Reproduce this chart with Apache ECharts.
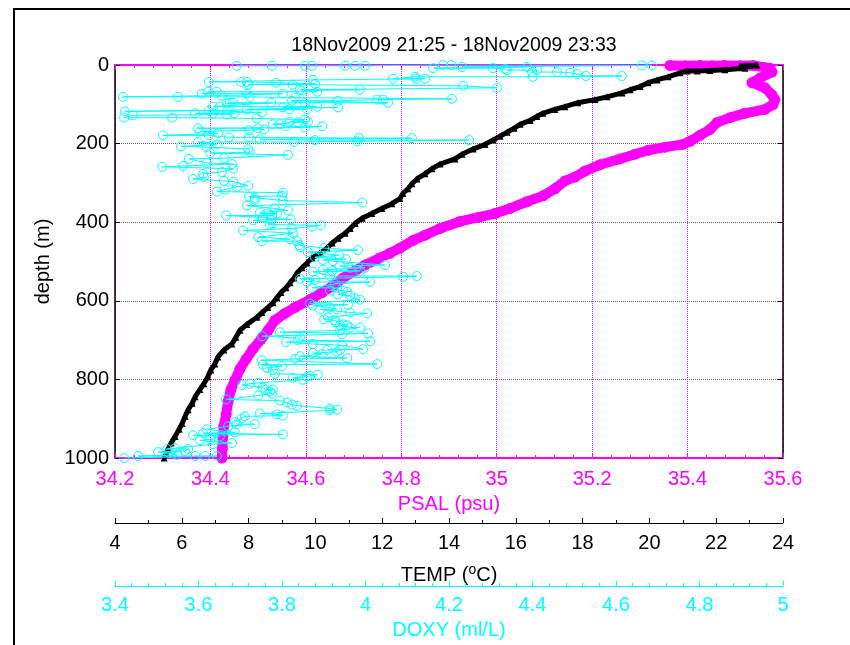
<!DOCTYPE html>
<html>
<head>
<meta charset="utf-8">
<script src="https://cdn.jsdelivr.net/npm/echarts@6/dist/echarts.min.js"></script>
<style>html,body{margin:0;padding:0;background:#fff;overflow:hidden}#c{width:850px;height:645px}</style>
</head>
<body>
<div id="c"></div>
<script>
// ---------------- DATA ----------------
var titleText = '18Nov2009 21:25 - 18Nov2009 23:33';

// PSAL (psu) vs depth (m)
var psalValues = [35.363,35.395,35.426,35.451,35.478,35.510,35.537,35.573,35.577,35.552,35.535,35.562,35.577,35.583,35.579,35.562,35.520,35.489,35.462,35.447,35.426,35.405,35.390,35.353,35.317,35.290,35.258,35.216,35.185,35.164,35.143,35.122,35.097,35.063,35.028,34.996,34.961,34.923,34.881,34.850,34.825,34.797,34.776,34.755,34.724,34.703,34.678,34.657,34.634,34.609,34.577,34.556,34.535,34.521,34.506,34.489,34.475,34.462,34.452,34.443,34.437,34.433,34.428,34.426,34.425,34.424];
var psalDepth  = [1,2,1,2,1,2,1,8,18,33,45,58,76,88,101,113,123,134,146,164,179,194,202,209,217,227,239,254,270,285,295,315,333,348,365,378,388,398,416,433,446,466,479,491,509,524,542,562,579,597,617,632,650,675,698,723,748,773,801,826,856,889,919,945,975,1000];

// TEMP (degC) vs depth (m)
var tempValues = [23.22,23.01,22.71,22.86,22.26,21.81,21.43,21.13,20.92,20.56,20.23,19.96,19.72,19.42,19.18,18.73,18.37,17.86,17.47,17.17,16.81,16.63,16.43,16.13,15.95,15.74,15.53,15.32,15.08,14.72,14.39,14.18,13.73,13.49,13.28,13.04,12.89,12.77,12.62,12.53,12.29,11.99,11.69,11.40,11.19,11.04,10.89,10.68,10.50,10.35,10.14,9.90,9.75,9.60,9.45,9.36,9.24,9.12,8.97,8.85,8.73,8.58,8.40,8.25,7.95,7.74,7.62,7.50,7.26,7.08,6.99,6.87,6.78,6.66,6.54,6.40,6.31,6.19,6.10,6.01,5.92,5.80,5.68,5.59,5.53,5.47];
var tempDepth  = [0,1,3,8,12,14,15,15,20,30,38,45,55,63,71,81,88,96,106,113,123,131,141,151,161,171,181,191,202,214,227,239,252,264,277,290,302,315,327,340,353,365,378,390,403,416,428,441,453,466,479,491,504,516,529,542,554,567,579,592,605,617,630,642,660,675,693,710,725,743,761,776,793,811,826,844,861,877,894,912,927,945,962,977,990,1000];

// DOXY (ml/L) vs depth (m)
var doxyValues = [3.692,3.776,3.855,3.872,3.951,3.975,3.999,4.186,4.205,4.662,4.686,4.231,4.387,4.162,4.305,4.334,4.339,4.411,4.399,4.459,4.490,4.507,4.528,4.614,4.401,4.119,4.066,4.121,4.143,3.874,3.625,3.702,3.716,3.786,3.879,3.719,3.826,4.234,4.315,3.843,3.987,3.848,3.884,3.623,3.644,3.608,3.716,3.802,3.656,3.419,3.551,3.723,3.831,4.207,4.028,4.042,3.934,3.824,4.054,3.855,3.668,3.675,3.683,3.774,3.635,3.651,3.884,3.802,3.934,3.716,3.817,3.860,3.424,3.625,3.752,3.592,3.635,3.685,3.668,3.443,3.422,3.537,3.740,3.855,3.819,3.862,3.838,3.778,3.795,3.810,3.896,3.855,3.599,3.743,3.757,3.721,3.604,3.647,3.515,3.625,3.673,3.721,3.984,4.111,3.747,3.879,4.248,3.980,3.829,3.599,3.644,3.558,3.620,3.719,3.723,3.628,3.814,3.661,3.577,3.620,3.680,3.563,3.513,3.683,3.656,3.611,3.613,3.587,3.661,3.683,3.719,3.692,3.663,3.644,3.802,3.800,3.721,3.735,3.735,3.802,3.992,3.716,3.783,3.814,3.747,3.764,3.788,3.776,3.666,3.754,3.821,3.774,3.731,3.778,3.771,3.893,3.872,3.824,3.707,3.826,3.743,3.819,3.752,3.836,3.841,3.843,3.901,3.982,3.862,3.937,3.879,3.953,3.898,3.922,4.047,3.939,3.963,3.999,3.898,3.920,3.987,3.874,3.915,4.123,4.090,3.843,3.879,3.860,4.011,3.927,3.872,3.932,3.915,3.946,3.956,3.934,3.963,3.975,3.987,3.867,3.958,3.874,3.915,3.932,3.891,3.963,4.004,3.910,3.901,3.927,3.929,3.946,3.956,3.939,3.963,3.987,3.939,3.795,4.006,3.944,3.752,3.843,3.838,4.011,3.810,3.874,3.944,3.994,3.908,3.939,3.932,3.874,3.896,3.843,3.956,3.831,3.752,4.028,3.754,3.800,3.764,3.778,3.783,3.886,3.867,3.860,3.826,3.850,3.743,3.723,3.704,3.754,3.762,3.778,3.771,3.776,3.743,3.666,3.795,3.812,3.824,3.836,3.915,3.932,3.915,3.747,3.788,3.802,3.711,3.704,3.687,3.692,3.735,3.671,3.620,3.687,3.611,3.802,3.587,3.651,3.628,3.604,3.680,3.635,3.544,3.525,3.575,3.568,3.503,3.529,3.549,3.455,3.592,3.616,3.644,3.422];
var doxyDepth  = [2,2,2,2,2,2,2,0,0,1,1,5,5,8,8,10,13,13,18,18,20,23,28,28,30,30,35,35,35,38,43,43,43,45,48,50,50,53,58,63,63,65,68,68,68,73,73,73,78,81,81,81,83,86,88,88,91,91,96,96,98,96,96,96,106,106,106,108,108,113,113,113,118,116,121,123,123,123,126,128,134,134,136,139,144,144,146,151,151,156,156,159,161,161,164,166,169,174,179,179,184,184,186,186,189,191,191,194,196,196,202,207,209,214,222,224,229,237,239,249,252,257,259,264,272,277,285,290,295,297,307,310,317,322,325,333,335,338,343,345,350,358,365,370,375,378,378,383,383,388,393,393,395,403,406,408,411,416,421,428,438,443,448,448,458,463,466,471,476,484,489,494,496,499,509,511,516,516,521,524,524,526,537,537,539,544,547,552,552,557,567,567,574,574,577,584,587,594,597,607,610,612,617,622,622,630,632,642,647,650,655,660,662,662,668,668,675,680,683,685,690,695,700,703,705,710,713,723,725,725,730,733,736,741,746,748,751,761,763,766,771,776,786,788,791,793,796,801,809,811,814,821,826,826,831,836,841,851,854,859,864,867,874,877,879,887,889,892,894,899,909,914,914,919,927,935,937,940,942,945,952,955,962,965,975,977,977,982,985,987,992,995,995,995,995,1000];

// axis ranges / labels
var psalAxis = {min: 34.2, max: 35.6, step: 0.2, name: 'PSAL (psu)'};
var tempAxis = {min: 4, max: 24, step: 2, name: 'TEMP ({sup|o}C)'};
var doxyAxis = {min: 3.4, max: 5, step: 0.2, name: 'DOXY (ml/L)'};
var depthAxis = {min: 0, max: 1000, step: 200, name: 'depth (m)'};

// ---------------- CHART ----------------
function pairs(xs, ys) { return xs.map(function (v, i) { return [v, ys[i]]; }); }
function plain(v) { return String(Math.round(v * 1000) / 1000); }
var MAG = '#ff00ff', CYA = '#00ffff', BLK = '#000000';
var FONT = '"Liberation Sans", Arial, sans-serif';
var FS = 20;

var chart = echarts.init(document.getElementById('c'), null, {renderer: 'canvas', width: 850, height: 645});
var option = {
  animation: false,
  backgroundColor: '#ffffff',
  textStyle: {fontFamily: FONT},
  title: {
    text: titleText, left: 449, top: 31, textAlign: 'center',
    textStyle: {fontFamily: FONT, fontSize: 19.5, fontWeight: 'normal', color: BLK}
  },
  graphic: [{
    type: 'rect', silent: true, z: -1,
    shape: {x: 14, y: 9, width: 1000, height: 1000},
    style: {fill: 'none', stroke: BLK, lineWidth: 2}
  }],
  grid: {left: 115, right: 67, top: 65, bottom: 183, containLabel: false},
  xAxis: [
    { // PSAL bottom
      type: 'value', position: 'bottom', min: psalAxis.min, max: psalAxis.max, interval: psalAxis.step,
      axisLine: {show: true, onZero: false, lineStyle: {color: MAG, width: 2}},
      axisTick: {show: true, inside: true, length: 5, lineStyle: {color: MAG}},
      minorTick: {show: true, splitNumber: 5, length: 3, lineStyle: {color: MAG}},
      axisLabel: {color: MAG, fontSize: FS, margin: 11, fontFamily: FONT, formatter: plain},
      splitLine: {show: true, lineStyle: {color: MAG, type: 'dotted', width: 1}},
      name: psalAxis.name, nameLocation: 'middle', nameGap: 36,
      nameTextStyle: {color: MAG, fontSize: FS, fontFamily: FONT}
    },
    { // TEMP
      type: 'value', position: 'bottom', offset: 65, min: tempAxis.min, max: tempAxis.max, interval: tempAxis.step,
      axisLine: {show: true, onZero: false, lineStyle: {color: BLK, width: 1}},
      axisTick: {show: true, inside: true, length: 5, lineStyle: {color: BLK}},
      minorTick: {show: true, splitNumber: 2, length: 3, lineStyle: {color: BLK}},
      axisLabel: {color: BLK, fontSize: FS, margin: 10, fontFamily: FONT, formatter: plain},
      splitLine: {show: false},
      name: tempAxis.name, nameLocation: 'middle', nameGap: 40,
      nameTextStyle: {color: BLK, fontSize: FS, fontFamily: FONT,
        rich: {sup: {fontSize: 14, verticalAlign: 'top', padding: [0, 0, 10, 0], fontFamily: FONT, color: BLK}}}
    },
    { // DOXY
      type: 'value', position: 'bottom', offset: 128, min: doxyAxis.min, max: doxyAxis.max, interval: doxyAxis.step,
      axisLine: {show: true, onZero: false, lineStyle: {color: CYA, width: 1}},
      axisTick: {show: true, inside: true, length: 5, lineStyle: {color: CYA}},
      minorTick: {show: true, splitNumber: 5, length: 3, lineStyle: {color: CYA}},
      axisLabel: {color: CYA, fontSize: FS, margin: 9, fontFamily: FONT, formatter: plain},
      splitLine: {show: false},
      name: doxyAxis.name, nameLocation: 'middle', nameGap: 34,
      nameTextStyle: {color: CYA, fontSize: FS, fontFamily: FONT}
    },
    { // PSAL top frame
      type: 'value', position: 'top', min: psalAxis.min, max: psalAxis.max, interval: psalAxis.step,
      axisLine: {show: true, onZero: false, lineStyle: {color: MAG, width: 2}},
      axisTick: {show: true, inside: true, length: 5, lineStyle: {color: MAG}},
      minorTick: {show: true, splitNumber: 5, length: 3, lineStyle: {color: MAG}},
      axisLabel: {show: false},
      splitLine: {show: false}
    }
  ],
  yAxis: [
    {
      type: 'value', position: 'left', inverse: true, min: depthAxis.min, max: depthAxis.max, interval: depthAxis.step,
      axisLine: {show: true, onZero: false, lineStyle: {color: BLK, width: 1.5}},
      axisTick: {show: true, inside: true, length: 5, lineStyle: {color: BLK}},
      axisLabel: {color: BLK, fontSize: FS, margin: 6, fontFamily: FONT, formatter: plain},
      splitLine: {show: true, lineStyle: {color: '#666666', type: 'dotted', width: 1}},
      name: depthAxis.name, nameLocation: 'middle', nameGap: 58,
      nameTextStyle: {color: BLK, fontSize: FS, fontFamily: FONT}
    },
    {
      type: 'value', position: 'right', inverse: true, min: depthAxis.min, max: depthAxis.max, interval: depthAxis.step,
      axisLine: {show: true, onZero: false, lineStyle: {color: BLK, width: 1.5}},
      axisTick: {show: true, inside: true, length: 5, lineStyle: {color: BLK}},
      axisLabel: {show: false},
      splitLine: {show: false}
    }
  ],
  series: [
    {
      name: 'PSAL', type: 'line', xAxisIndex: 0, yAxisIndex: 0, z: 3,
      data: pairs(psalValues, psalDepth),
      symbol: 'circle', symbolSize: 11, showSymbol: true,
      itemStyle: {color: MAG},
      lineStyle: {color: MAG, width: 10}
    },
    {
      name: 'TEMP', type: 'line', xAxisIndex: 1, yAxisIndex: 0, z: 4,
      data: pairs(tempValues, tempDepth),
      symbol: 'triangle', symbolSize: 7, showSymbol: true,
      itemStyle: {color: BLK},
      lineStyle: {color: BLK, width: 5}
    },
    {
      name: 'DOXY', type: 'line', xAxisIndex: 2, yAxisIndex: 0, z: 5,
      data: pairs(doxyValues, doxyDepth),
      symbol: 'circle', symbolSize: 9, showSymbol: true,
      itemStyle: {color: 'rgba(0,0,0,0)', borderColor: CYA, borderWidth: 1},
      lineStyle: {color: CYA, width: 1}
    }
  ]
};
chart.setOption(option);
</script>
</body>
</html>
